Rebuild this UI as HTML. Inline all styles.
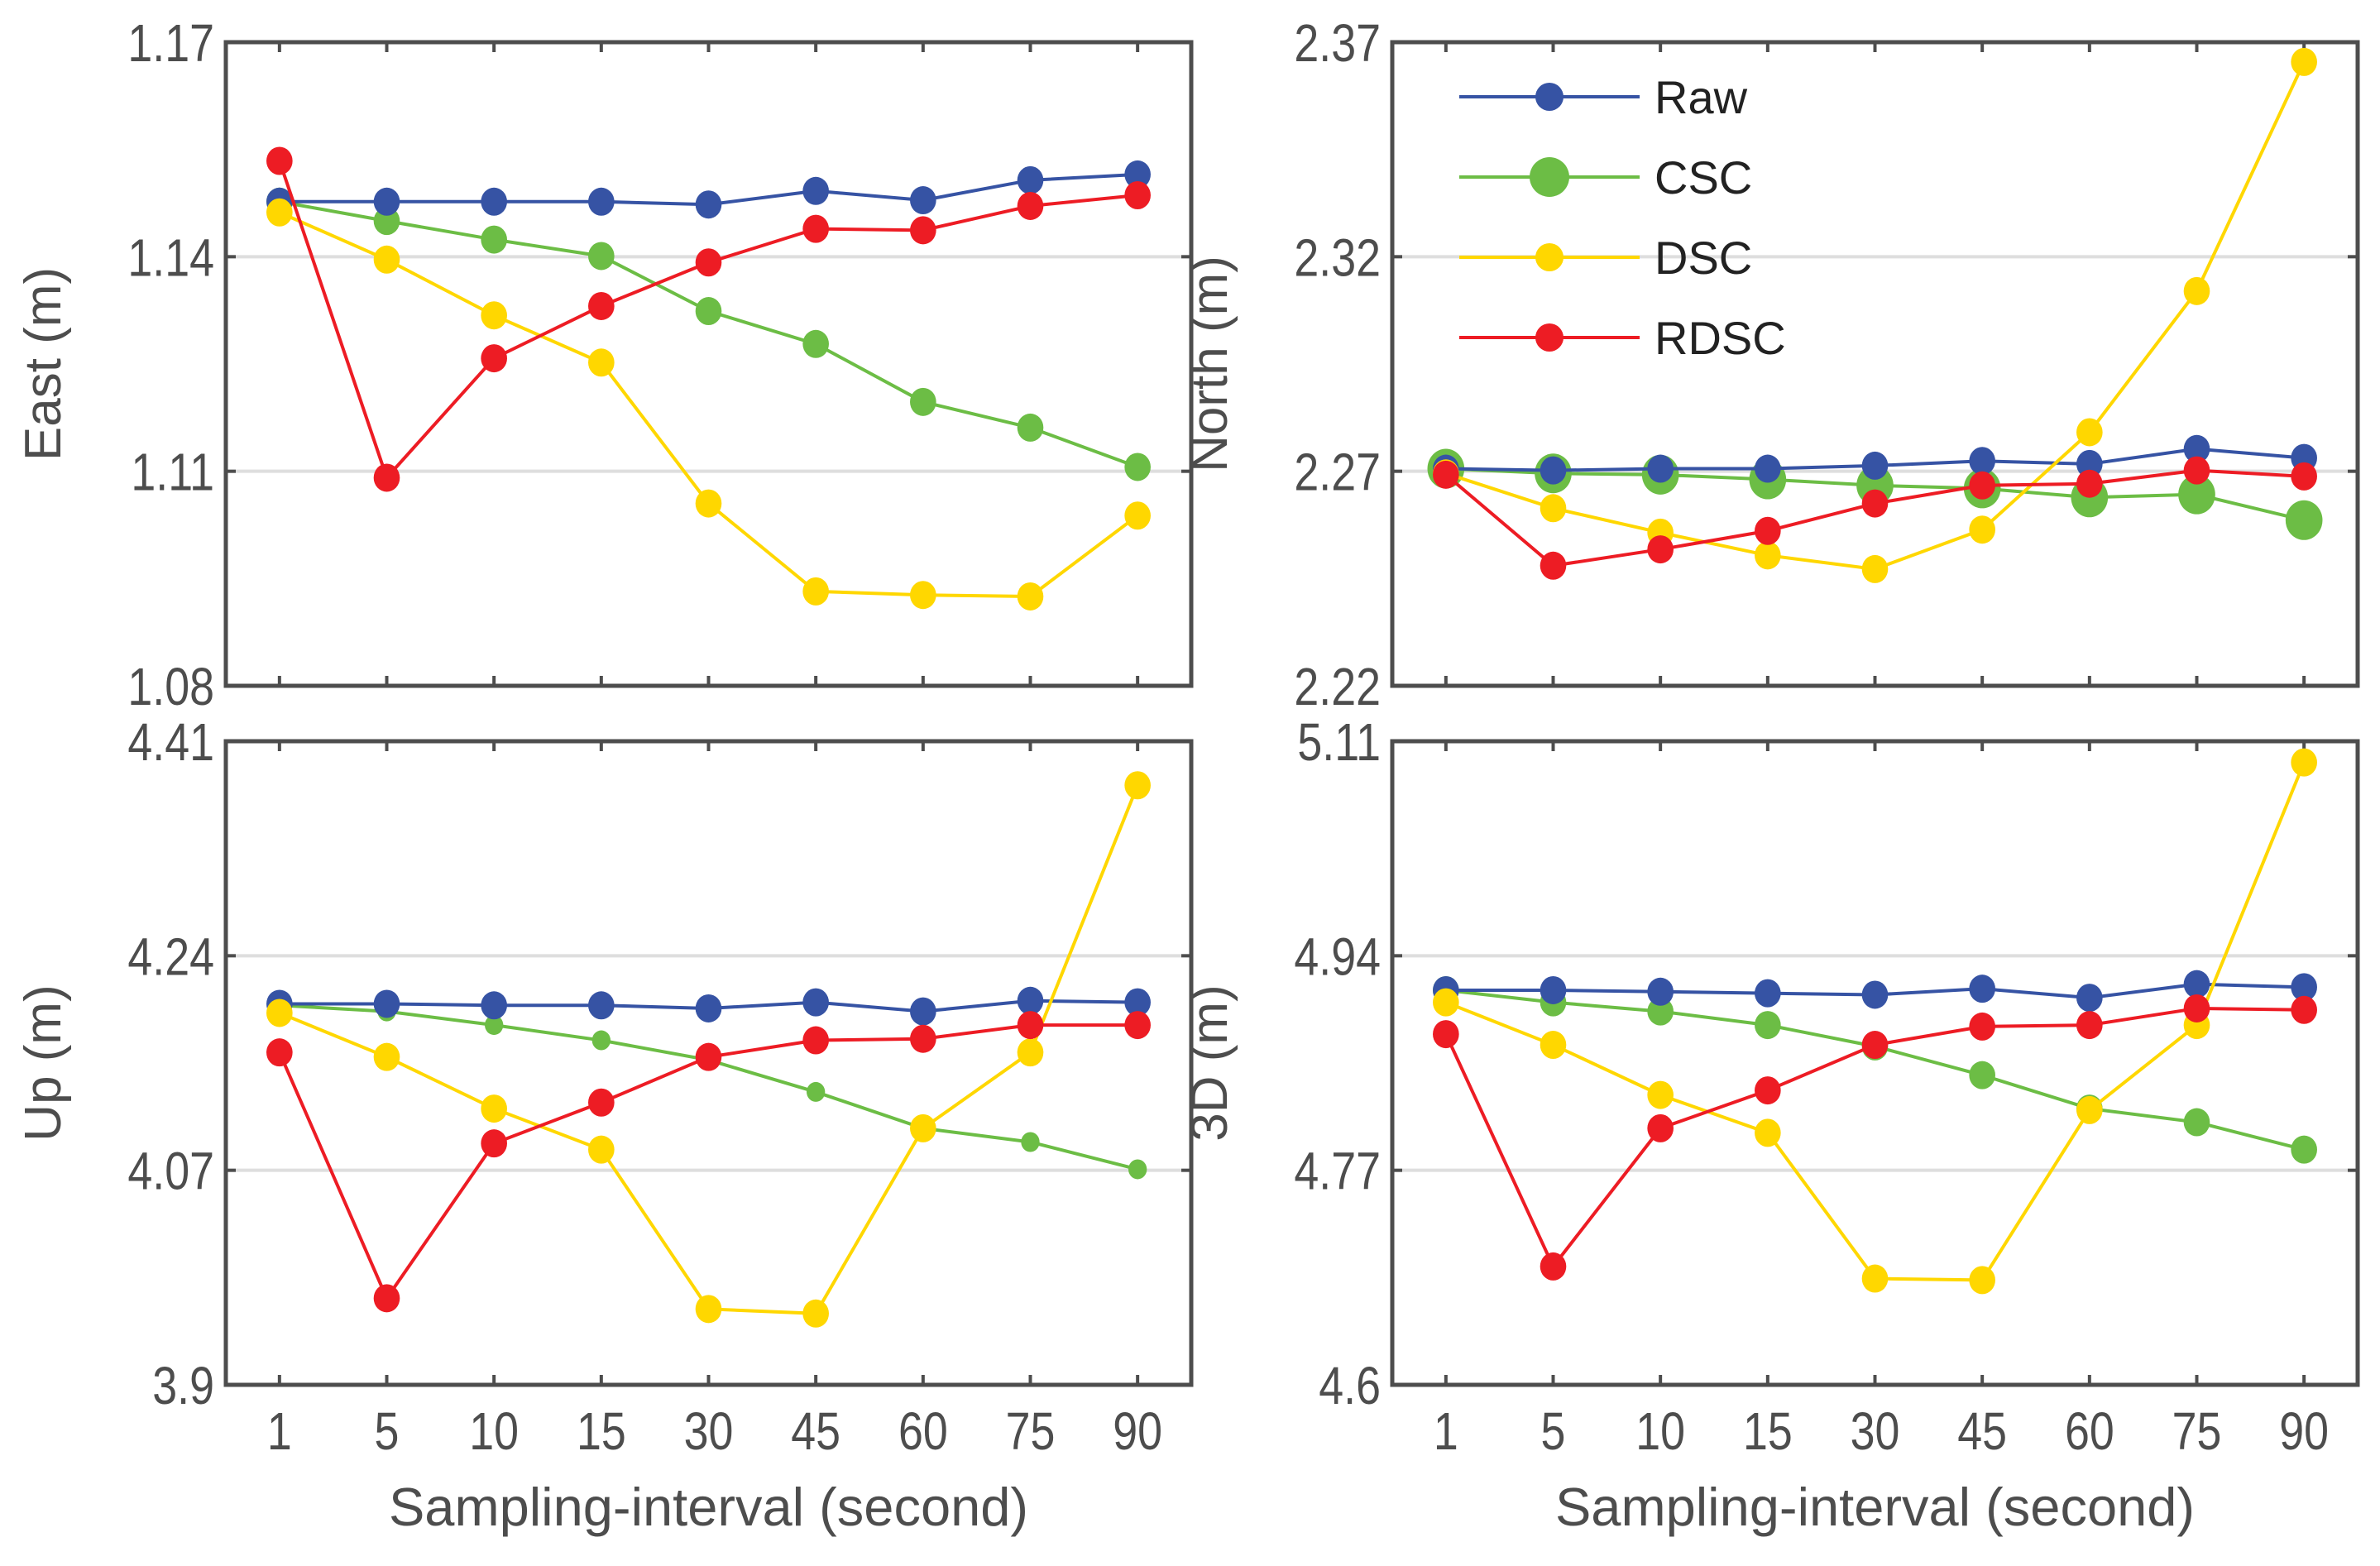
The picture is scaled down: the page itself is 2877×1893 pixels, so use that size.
<!DOCTYPE html>
<html><head><meta charset="utf-8"><style>
html,body{margin:0;padding:0;background:#fff}
svg text{font-family:"Liberation Sans",sans-serif}
</style></head><body>
<svg id="chart" width="2877" height="1888" viewBox="0 0 2877 1888" xmlns="http://www.w3.org/2000/svg"></svg>
<script>
const categories = ["1","5","10","15","30","45","60","75","90"];
const seriesNames = ["Raw","CSC","DSC","RDSC"];
const eastRaw  = [1.1477,1.1477,1.1477,1.1477,1.1473,1.1492,1.1479,1.1507,1.1515];
const eastCSC  = [1.1477,1.1450,1.1424,1.1401,1.1324,1.1278,1.1197,1.1161,1.1106];
const eastDSC  = [1.1462,1.1396,1.1318,1.1252,1.1055,1.0932,1.0927,1.0925,1.1038];
const eastRDSC = [1.1534,1.1091,1.1258,1.1331,1.1392,1.1439,1.1437,1.1471,1.1486];
const northRaw  = [2.2706,2.2702,2.2706,2.2706,2.2713,2.2724,2.2717,2.2752,2.2731];
const northCSC  = [2.2706,2.2695,2.2692,2.2681,2.2667,2.2660,2.2639,2.2646,2.2586];
const northDSC  = [2.2695,2.2614,2.2557,2.2504,2.2472,2.2564,2.2791,2.3120,2.3654];
const northRDSC = [2.2692,2.2480,2.2518,2.2561,2.2625,2.2667,2.2671,2.2702,2.2688];
const upRaw  = [4.2019,4.2019,4.2007,4.2007,4.1983,4.2031,4.1959,4.2043,4.2031];
const upCSC  = [4.2007,4.1959,4.1851,4.1730,4.1574,4.1321,4.1033,4.0924,4.0708];
const upDSC  = [4.1947,4.1598,4.1189,4.0864,3.9601,3.9565,4.1033,4.1634,4.3751];
const upRDSC = [4.1634,3.9686,4.0913,4.1237,4.1598,4.1730,4.1742,4.1851,4.1851];
const d3Raw  = [4.9127,4.9127,4.9115,4.9103,4.9091,4.9139,4.9067,4.9175,4.9151];
const d3CSC  = [4.9127,4.9031,4.8959,4.8851,4.8682,4.8454,4.8189,4.8081,4.7864];
const d3DSC  = [4.9031,4.8694,4.8297,4.7997,4.6842,4.6830,4.8177,4.8851,5.0932];
const d3RDSC = [4.8779,4.6938,4.8033,4.8333,4.8694,4.8839,4.8851,4.8983,4.8971];
const eastTicks  = ["1.08","1.11","1.14","1.17"];
const northTicks = ["2.22","2.27","2.32","2.37"];
const upTicks    = ["3.9","4.07","4.24","4.41"];
const d3Ticks    = ["4.6","4.77","4.94","5.11"];

const NS="http://www.w3.org/2000/svg";
const svg=document.getElementById('chart');
const colors=["#3653a4","#6cbd45","#ffd700","#ed1c24"];
function mk(tag,attrs,parent){const e=document.createElementNS(NS,tag);for(const k in attrs)e.setAttribute(k,attrs[k]);(parent||svg).appendChild(e);return e;}

function panel(name,L,T,W,H,ticks,title,series,cscR,showX){
  const g=mk('g',{});
  
  
  const lo=parseFloat(ticks[0]),hi=parseFloat(ticks[ticks.length-1]);
  const xs=i=>L+(i+0.5)*W/categories.length;
  const ys=v=>T+H-(v-lo)/(hi-lo)*H;
  ticks.forEach((t,i)=>{
    const y=ys(parseFloat(t));
    if(i>0&&i<ticks.length-1){const gl=mk('line',{x1:L,x2:L+W,y1:y,y2:y,stroke:'#dedede','stroke-width':4},g);
      
      }
    mk('line',{x1:L,x2:L+12,y1:y,y2:y,stroke:'#4d4d4d','stroke-width':4},g);
    mk('line',{x1:L+W-12,x2:L+W,y1:y,y2:y,stroke:'#4d4d4d','stroke-width':4},g);
    const tx=mk('text',{x:0,y:0,'text-anchor':'end','font-size':64,fill:'#4d4d4d',transform:`translate(${L-14},${y+23}) scale(0.84,1)`},g);
    tx.textContent=t;
    
    
  });
  categories.forEach((c,i)=>{
    const x=xs(i);
    mk('line',{x1:x,x2:x,y1:T,y2:T+12,stroke:'#4d4d4d','stroke-width':4},g);
    mk('line',{x1:x,x2:x,y1:T+H-12,y2:T+H,stroke:'#4d4d4d','stroke-width':4},g);
    if(showX){const tx=mk('text',{x:0,y:0,'text-anchor':'middle','font-size':64,fill:'#4d4d4d',transform:`translate(${x},${T+H+78}) scale(0.84,1)`},g);
      tx.textContent=c;
      
      }
  });
  const yt=mk('text',{x:0,y:0,'text-anchor':'middle','font-size':62,fill:'#4d4d4d',transform:`translate(${L-200},${T+H/2}) rotate(-90)`},g);
  yt.textContent=title;
  
  
  if(showX){const xt=mk('text',{x:L+W/2,y:T+H+170,'text-anchor':'middle','font-size':65,fill:'#4d4d4d'},g);
    xt.textContent='Sampling-interval (second)';
    
    }
  const order=[1,0,2,3];
  order.forEach(si=>{
    const vals=series[si];
    const sg=mk('g',{},g);
    
    
    const pts=vals.map((v,i)=>xs(i)+','+ys(v)).join(' ');
    mk('polyline',{points:pts,fill:'none',stroke:colors[si],'stroke-width':4},sg);
    const r=si===1?cscR:17;
    vals.forEach((v,i)=>{
      const c=mk('ellipse',{cx:xs(i),cy:ys(v),rx:r*0.93,ry:r,fill:colors[si]},sg);
      
      
    });
  });
  const fr=mk('rect',{x:L,y:T,width:W,height:H,fill:'none',stroke:'#4d4d4d','stroke-width':5},g);
  
  
}
const W=1167,H=778;
panel('east',273,51,W,H,eastTicks,'East (m)',[eastRaw,eastCSC,eastDSC,eastRDSC],17,false);
panel('north',1683,51,W,H,northTicks,'North (m)',[northRaw,northCSC,northDSC,northRDSC],24,false);
panel('up',273,896,W,H,upTicks,'Up (m)',[upRaw,upCSC,upDSC,upRDSC],12,true);
panel('3d',1683,896,W,H,d3Ticks,'3D (m)',[d3Raw,d3CSC,d3DSC,d3RDSC],17,true);

const lg=mk('g',{});


const legY=[117,214,311,408];
seriesNames.forEach((n,i)=>{
  const e=mk('g',{},lg);
  
  
  mk('line',{x1:1764,x2:1982,y1:legY[i],y2:legY[i],stroke:colors[i],'stroke-width':4},e);
  mk('circle',{cx:1873,cy:legY[i],r:i===1?24:17,fill:colors[i]},e);
  const t=mk('text',{x:2000,y:legY[i]+20,'font-size':56,fill:'#222'},e);
  t.textContent=n;
});
</script>
</body></html>
